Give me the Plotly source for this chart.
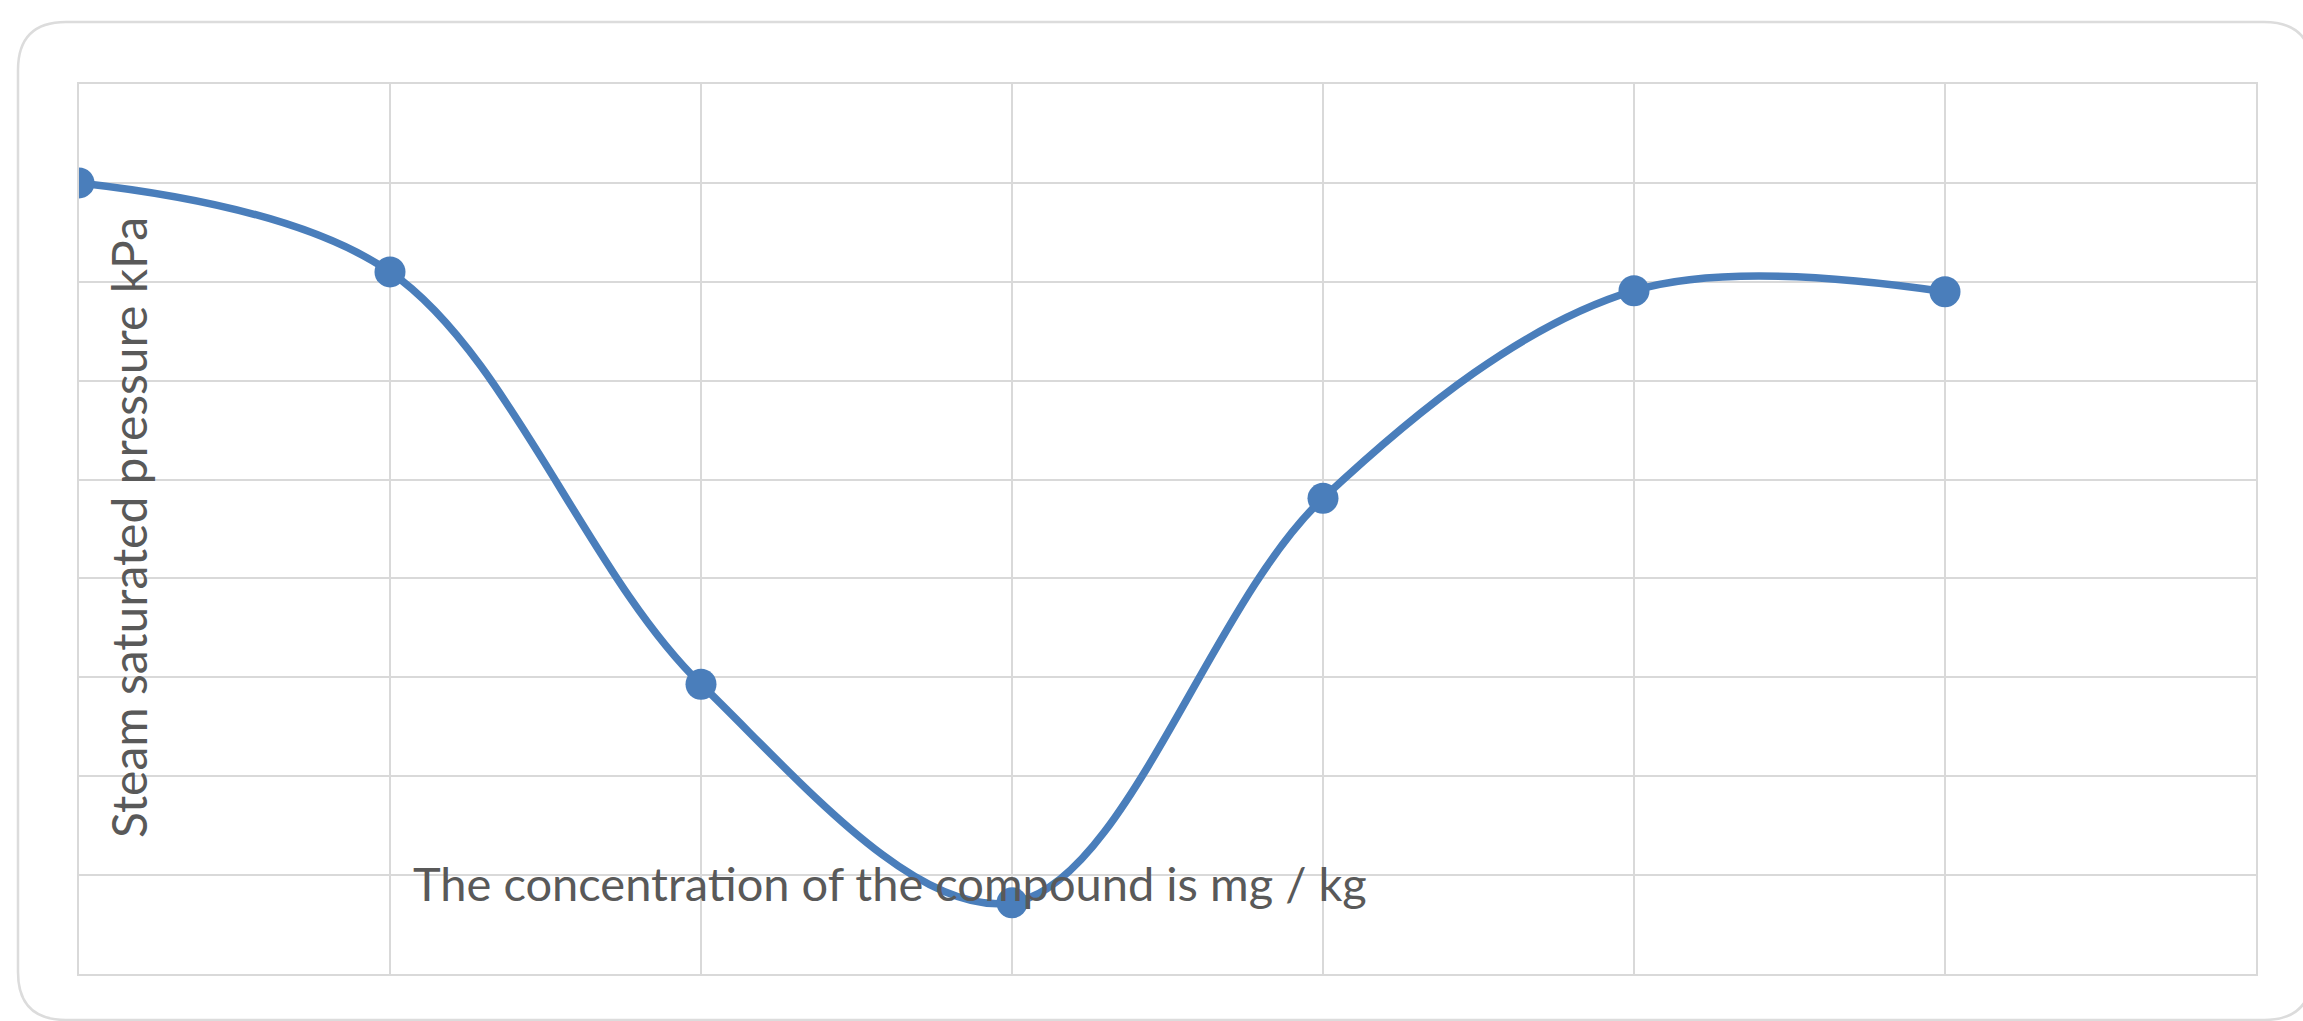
import plotly.graph_objects as go

# Sample positions along the concentration axis and the measured pressures
concentration_steps = [0, 1, 2, 3, 4, 5, 6]
steam_pressure = [8.0, 7.1, 2.93, 0.72, 4.81, 6.91, 6.9]

x_title = "The concentration of the compound is mg / kg"
y_title = "Steam saturated pressure kPa"

W, H = 2303, 1021
ML, MR, MT, MB = 79, 47, 84, 47
PW, PH = W - ML - MR, H - MT - MB

LINE_BLUE = "#4a7ebb"
GRID = "#d9d9d9"
TEXT = "#595959"
FONT = "Lato, 'Open Sans', sans-serif"


def px(x):
    return (x - ML) / PW


def py(y):
    return 1 - (y - MT) / PH


# Rounded frame around the whole chart
x0, x1, y0, y1, r = 18, 2312, 22, 1020, 48
frame = (
    f"M {px(x0 + r)},{py(y0)} L {px(x1 - r)},{py(y0)} "
    f"Q {px(x1)},{py(y0)} {px(x1)},{py(y0 + r)} "
    f"L {px(x1)},{py(y1 - r)} Q {px(x1)},{py(y1)} {px(x1 - r)},{py(y1)} "
    f"L {px(x0 + r)},{py(y1)} Q {px(x0)},{py(y1)} {px(x0)},{py(y1 - r)} "
    f"L {px(x0)},{py(y0 + r)} Q {px(x0)},{py(y0)} {px(x0 + r)},{py(y0)} Z"
)

fig = go.Figure()
fig.add_trace(
    go.Scatter(
        x=concentration_steps,
        y=steam_pressure,
        mode="lines+markers",
        line=dict(color=LINE_BLUE, width=7.5, shape="spline", smoothing=1.0),
        marker=dict(color=LINE_BLUE, size=31, line=dict(width=0)),
        showlegend=False,
        hoverinfo="x+y",
    )
)

fig.update_layout(
    width=W,
    height=H,
    margin=dict(l=ML, r=MR, t=MT, b=MB, pad=0),
    paper_bgcolor="white",
    plot_bgcolor="white",
    font=dict(family=FONT, color=TEXT),
    xaxis=dict(
        range=[0, 7],
        dtick=1,
        tick0=0,
        showticklabels=False,
        ticks="",
        showgrid=True,
        gridcolor=GRID,
        gridwidth=2,
        zeroline=False,
        showline=True,
        linecolor=GRID,
        linewidth=2,
        mirror=True,
        fixedrange=True,
    ),
    yaxis=dict(
        range=[0, 9],
        dtick=1,
        tick0=0,
        showticklabels=False,
        ticks="",
        showgrid=True,
        gridcolor=GRID,
        gridwidth=2,
        zeroline=False,
        showline=True,
        linecolor=GRID,
        linewidth=2,
        mirror=True,
        fixedrange=True,
    ),
    shapes=[
        dict(
            type="path",
            xref="paper",
            yref="paper",
            path=frame,
            line=dict(color="#dcdcdc", width=2.5),
            fillcolor="rgba(0,0,0,0)",
            layer="below",
        )
    ],
    annotations=[
        dict(
            text=x_title,
            xref="paper",
            yref="paper",
            x=px(890),
            y=py(883),
            xanchor="center",
            yanchor="middle",
            showarrow=False,
            font=dict(family=FONT, size=47, color=TEXT),
        ),
        dict(
            text=y_title,
            xref="paper",
            yref="paper",
            x=px(128),
            y=py(528),
            xanchor="center",
            yanchor="middle",
            textangle=-90,
            showarrow=False,
            font=dict(family=FONT, size=48, color=TEXT),
        ),
    ],
)

fig.write_html("out.html")
